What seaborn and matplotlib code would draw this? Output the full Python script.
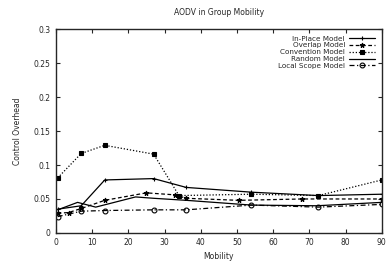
#!/usr/bin/env python
''' AODV control overhead under group mobility models.
'''

import pandas as pd
import seaborn as sns
import matplotlib
matplotlib.use('Agg')
import matplotlib.pyplot as plt

# Values.
inplace_x = [0.5, 7, 13.5, 27, 36, 54, 72.5, 90]
inplace_y = [0.035, 0.040, 0.078, 0.080, 0.067, 0.060, 0.055, 0.057]

overlap_x = [0.5, 3.5, 7, 13.5, 25, 33, 36, 50.5, 68, 90]
overlap_y = [0.029, 0.030, 0.036, 0.048, 0.059, 0.056, 0.051, 0.048, 0.050, 0.050]

convention_x = [0.5, 7, 13.5, 27, 34, 54, 72.5, 90]
convention_y = [0.081, 0.117, 0.129, 0.116, 0.055, 0.057, 0.055, 0.078]

random_x = [0.5, 6, 11, 22, 27, 36, 54, 72, 90]
random_y = [0.034, 0.045, 0.038, 0.053, 0.051, 0.048, 0.041, 0.040, 0.045]

local_x = [0.5, 7, 13.5, 27, 36, 54, 72.5, 90]
local_y = [0.024, 0.032, 0.033, 0.034, 0.034, 0.041, 0.038, 0.042]

x_ticks = [0, 10, 20, 30, 40, 50, 60, 70, 80, 90]
y_ticks = [0, 0.05, 0.1, 0.15, 0.2, 0.25, 0.3]
y_tick_labels = ['0', '0.05', '0.1', '0.15', '0.2', '0.25', '0.3']


def main():
    sns.set_style('ticks')
    plt.rcParams['font.family'] = ['DejaVu Sans']

    series = [
        ('In-Place Model', inplace_x, inplace_y, '-', '+', 'full'),
        ('Overlap Model', overlap_x, overlap_y, (0, (3, 2)), '*', 'full'),
        ('Convention Model', convention_x, convention_y, (0, (1, 1.5)), 's', 'full'),
        ('Random Model', random_x, random_y, '-', None, 'full'),
        ('Local Scope Model', local_x, local_y, (0, (4, 2, 1, 2)), 'o', 'none'),
    ]

    fig, ax = plt.subplots(figsize=(3.88, 2.65), dpi=100)
    fig.subplots_adjust(left=0.144, right=0.984, bottom=0.121, top=0.89)

    for name, xs, ys, ls, mk, fill in series:
        df = pd.DataFrame({'x': xs, 'y': ys})
        sns.lineplot(data=df, x='x', y='y', ax=ax, color='black',
                     linestyle=ls, marker=mk, markersize=3.5,
                     fillstyle=fill, markeredgecolor='black',
                     markeredgewidth=0.8, linewidth=0.9, label=name)

    ax.set_xlim(0, 90)
    ax.set_ylim(0, 0.3)
    ax.set_xticks(x_ticks)
    ax.set_yticks(y_ticks)
    ax.set_yticklabels(y_tick_labels)
    ax.tick_params(direction='in', top=True, right=True, labelsize=5.5,
                   length=3, width=0.8, pad=4)
    for side in ax.spines.values():
        side.set_linewidth(1.0)

    ax.set_xlabel('Mobility', fontsize=5.5, labelpad=3)
    ax.set_ylabel('Control Overhead', fontsize=5.5, labelpad=8)
    ax.set_title('AODV in Group Mobility', fontsize=5.5, pad=10)

    ax.legend(loc='upper right', frameon=False, markerfirst=False,
              fontsize=5.2, handlelength=3.6, labelspacing=0.1,
              handletextpad=0.6, borderaxespad=0.5)

    fig.savefig('out.png', dpi=100)


if __name__ == '__main__':
    main()
